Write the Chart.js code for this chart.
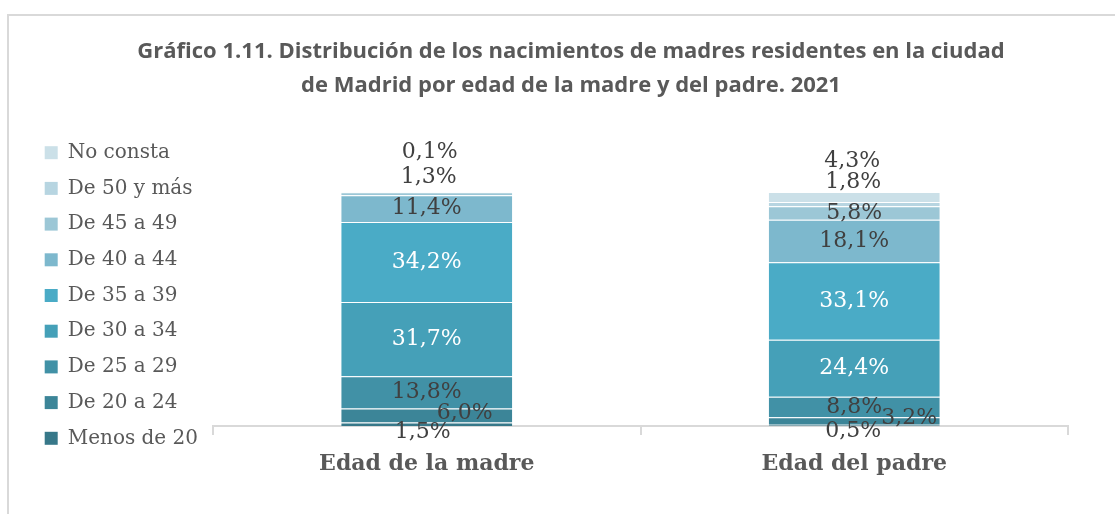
<!DOCTYPE html>
<html>
<head>
<meta charset="utf-8">
<script src="https://cdn.jsdelivr.net/npm/chart.js@4.4.0/dist/chart.umd.min.js"></script>
<style>
  html, body { margin: 0; padding: 0; background: #fff; overflow: hidden; }
  #frame { position: absolute; left: 7px; top: 14px; width: 2000px; height: 2000px;
           border-top: 2px solid #d9d9d9; border-left: 2px solid #d9d9d9; }
  #chart { position: absolute; left: 0; top: 0; }
</style>
</head>
<body>
<div id="frame"></div>
<canvas id="chart" width="1113" height="514"></canvas>
<script>
// categorias y series (porcentaje sobre el total de nacimientos)
const categories = ['Edad de la madre', 'Edad del padre'];
const ageGroups = ['Menos de 20', 'De 20 a 24', 'De 25 a 29', 'De 30 a 34', 'De 35 a 39',
                   'De 40 a 44', 'De 45 a 49', 'De 50 y más', 'No consta'];
const menos20 = [1.5, 0.5];
const de20a24 = [6.0, 3.2];
const de25a29 = [13.8, 8.8];
const de30a34 = [31.7, 24.4];
const de35a39 = [34.2, 33.1];
const de40a44 = [11.4, 18.1];
const de45a49 = [1.3, 5.8];
const de50mas = [0.1, 1.8];
const noConsta = [0, 4.3];

const seriesValues = [menos20, de20a24, de25a29, de30a34, de35a39, de40a44, de45a49, de50mas, noConsta];
const colors = ['#377889', '#3c8598', '#4191a6', '#45a0b8', '#4aabc6',
                '#7db8cd', '#9cc7d6', '#b7d5e1', '#cbe0e8'];
const whiteLabels = [3, 4];

// desplazamiento de las etiquetas que no caben en su tramo: 'categoria-serie' -> [dx, dy]
const labelShift = {
  '0-0': [-4, 8], '0-1': [38, -2], '0-6': [2, -16], '0-7': [3, -40],
  '1-0': [-1, 6], '1-1': [55, -3], '1-7': [-1, -22], '1-8': [-2, -36]
};

const barLabels = {
  id: 'barLabels',
  afterDatasetsDraw(chart) {
    const ctx = chart.ctx;
    ctx.save();
    ctx.font = '22px "DejaVu Serif"';
    ctx.textAlign = 'center';
    ctx.textBaseline = 'middle';
    chart.data.datasets.forEach((ds, si) => {
      const meta = chart.getDatasetMeta(si);
      meta.data.forEach((bar, ci) => {
        const v = ds.data[ci];
        if (!v) return;
        const shift = labelShift[ci + '-' + si] || [0, 0];
        const y = (bar.y + bar.base) / 2;
        ctx.fillStyle = whiteLabels.includes(si) ? '#ffffff' : '#404040';
        ctx.fillText(v.toFixed(1).replace('.', ',') + '%', bar.x + shift[0], y + shift[1]);
      });
    });
    ctx.restore();
  }
};

const datasets = ageGroups.map((name, i) => ({
  label: name,
  data: seriesValues[i],
  backgroundColor: colors[i],
  borderColor: 'rgba(255,255,255,0.25)',
  borderWidth: { top: 1, bottom: 0, left: 0, right: 0 },
  borderSkipped: false,
  barPercentage: 0.4,
  categoryPercentage: 1.0
}));

const padLeft = 29;

new Chart(document.getElementById('chart'), {
  type: 'bar',
  data: { labels: categories, datasets: datasets },
  options: {
    responsive: false,
    animation: false,
    layout: { padding: { left: padLeft, right: 0, top: 0, bottom: 0 } },
    plugins: {
      title: {
        display: true,
        text: ['Gráfico 1.11. Distribución de los nacimientos de madres residentes en la ciudad',
               'de Madrid por edad de la madre y del padre. 2021'],
        color: '#595959',
        font: { family: '"Open Sans"', size: 22, weight: 'bold', lineHeight: 1.545 },
        padding: { top: 35, bottom: 89 }
      },
      legend: {
        position: 'left',
        align: 'start',
        reverse: true,
        title: { display: true, text: '', padding: { top: 52, bottom: 51 }, font: { size: 20 } },
        labels: {
          boxWidth: 13,
          boxHeight: 13,
          padding: 15.7,
          color: '#595959',
          font: { family: '"DejaVu Serif"', size: 20 },
          generateLabels: chart => Chart.defaults.plugins.legend.labels.generateLabels(chart)
            .map(l => Object.assign(l, { lineWidth: 0 }))
        }
      },
      tooltip: { enabled: false }
    },
    scales: {
      x: {
        stacked: true,
        grid: { display: true, drawOnChartArea: false, drawTicks: true, tickLength: 9, color: '#d9d9d9', lineWidth: 2 },
        border: { display: true, color: '#d9d9d9', width: 2 },
        ticks: { color: '#595959', padding: 16, font: { family: '"DejaVu Serif"', size: 22, weight: 'bold' } },
        afterFit: s => { s.height = 88; }
      },
      y: {
        stacked: true,
        min: 0,
        max: 100,
        display: true,
        grid: { display: false },
        border: { display: false },
        ticks: { display: false },
        afterFit: s => { s.width = Math.max(0, 213 - padLeft - s.chart.legend.width); }
      },
      y2: {
        position: 'right',
        display: true,
        grid: { display: false },
        border: { display: false },
        ticks: { display: false },
        afterFit: s => { s.width = 45; }
      }
    }
  },
  plugins: [barLabels]
});
</script>
</body>
</html>
